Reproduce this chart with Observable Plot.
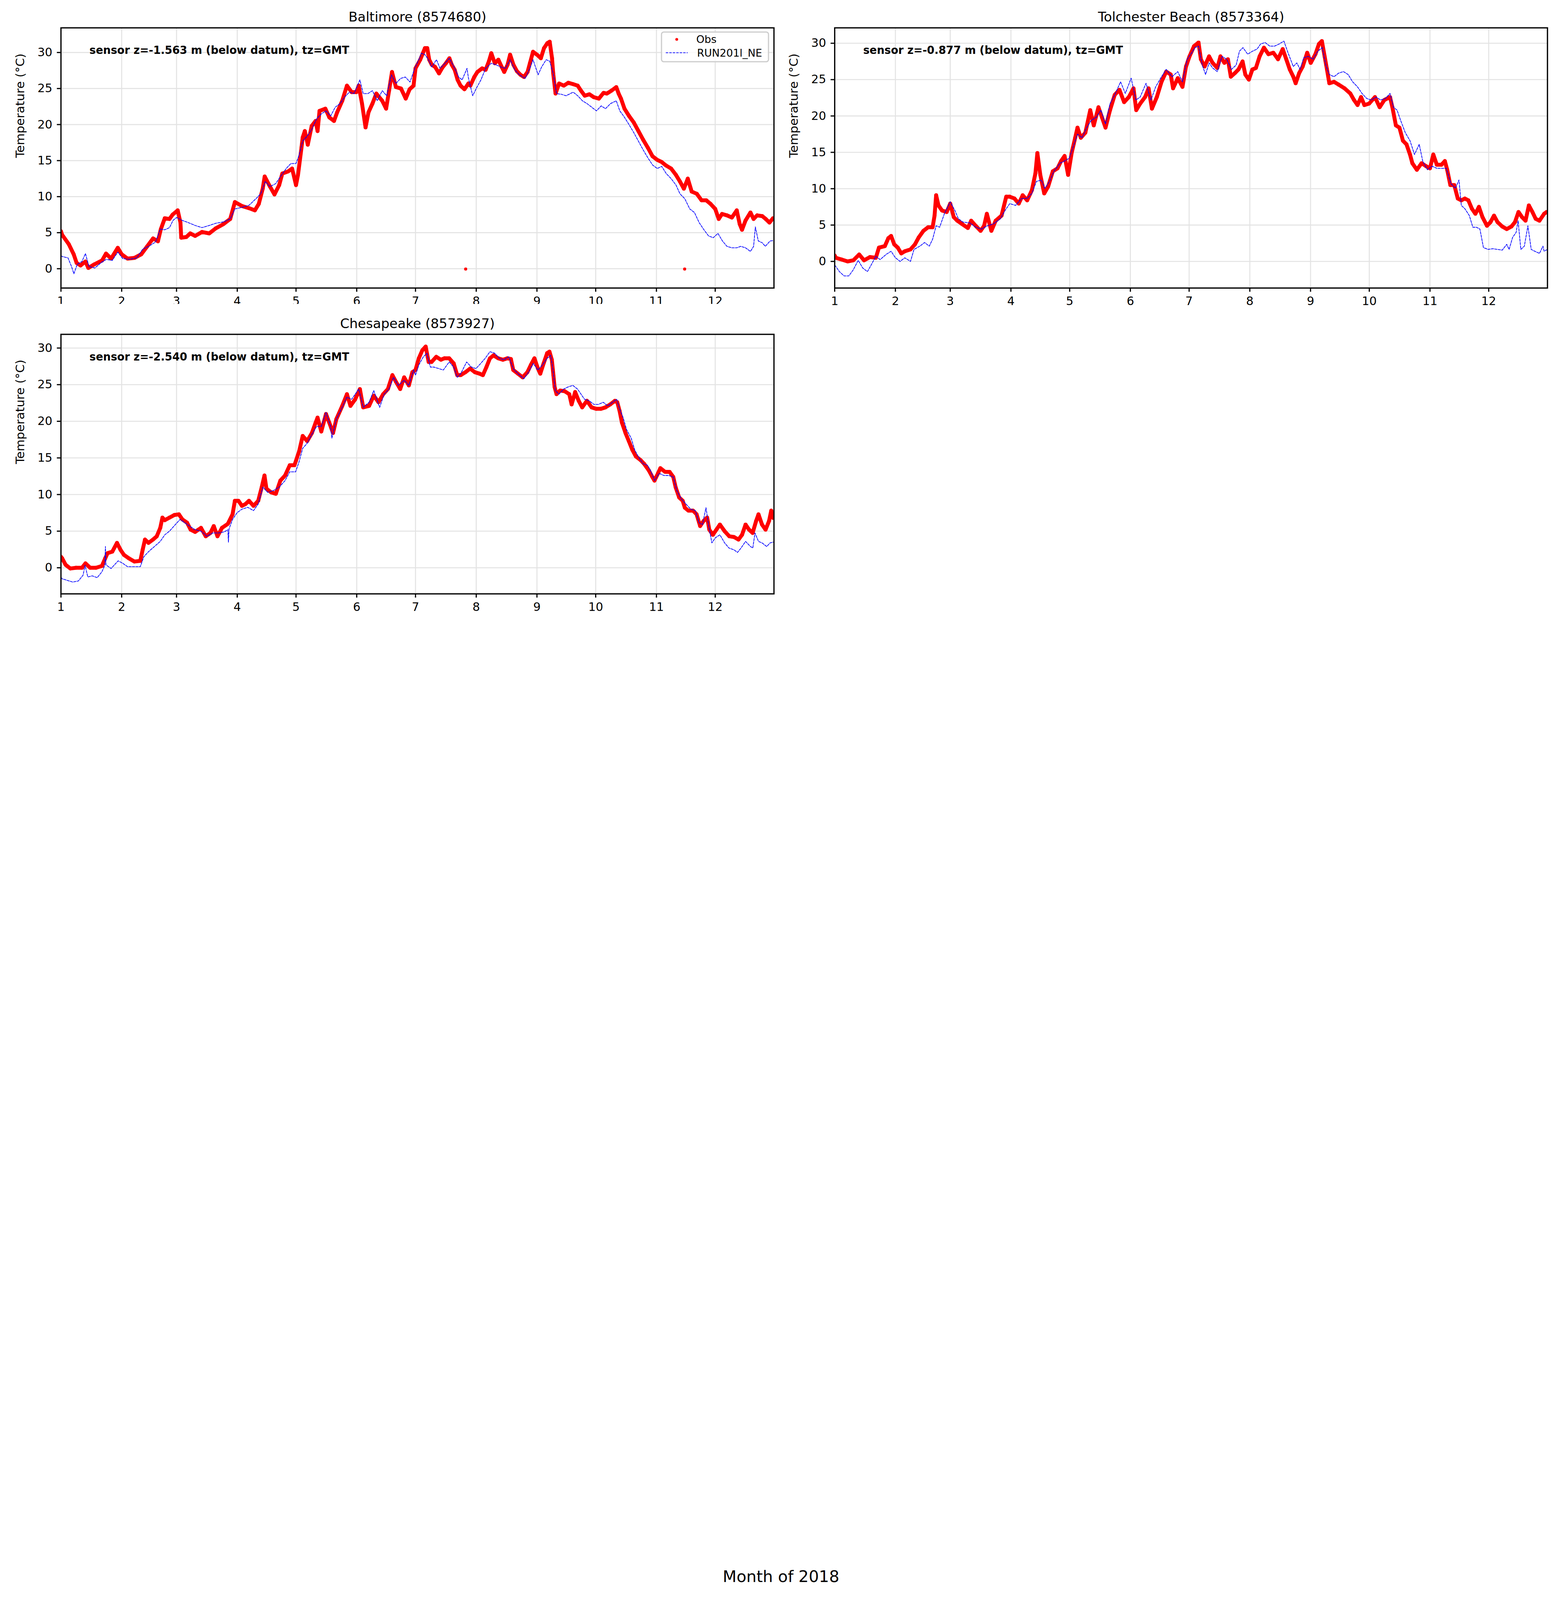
<!DOCTYPE html>
<html>
<head>
<meta charset="utf-8">
<script src="https://cdn.jsdelivr.net/npm/d3@7"></script>
<script src="https://cdn.jsdelivr.net/npm/@observablehq/plot@0.6"></script>
<style>
  html, body { margin: 0; padding: 0; background: #fff; overflow: hidden; }
  #page { position: relative; width: 4000px; background: #fff; font-family: "DejaVu Sans", sans-serif; }
  .panel { position: absolute; }
  #overlay { position: absolute; left: 0; top: 0; pointer-events: none; }
</style>
</head>
<body>
<div id="page">
  <div id="p-bal" class="panel"></div>
  <div id="p-tol" class="panel"></div>
  <div id="p-che" class="panel"></div>
</div>
<script>
// ---------- tick labels ----------
const monthNumbers = [1,2,3,4,5,6,7,8,9,10,11,12];
const yTickValues = [0,5,10,15,20,25,30];

// ---------- station titles / notes ----------
const stationTitles = ["Baltimore (8574680)", "Tolchester Beach (8573364)", "Chesapeake (8573927)"];
const sensorNotes = [
  "sensor z=-1.563 m (below datum), tz=GMT",
  "sensor z=-0.877 m (below datum), tz=GMT",
  "sensor z=-2.540 m (below datum), tz=GMT"
];
const seriesNames = ["Obs", "RUN201l_NE"];

// ---------- data: [day of 2018 (0 = Jan 1), temperature °C] ----------
const baltimoreObs = [[0,5.2],[0.6,4.7],[4,3.4],[6.5,2.0],[8,0.8],[10,0.45],[12.5,1.0],[14,0.1],[17,0.6],[21,1.15],[23,2.1],[25.6,1.4],[29,2.9],[31,2.0],[34,1.4],[37.5,1.5],[41,2.0],[44,3.1],[47,4.2],[49.5,3.8],[51,5.5],[53,7.0],[55.4,6.9],[57,7.5],[59.6,8.1],[61,6.4],[61.4,4.3],[64,4.4],[66,4.9],[68.5,4.55],[72,5.1],[75.7,4.9],[79,5.6],[83,6.2],[86.4,6.9],[88.8,9.25],[92.4,8.7],[96,8.4],[99,8.1],[101,9.0],[103,11.1],[104,12.8],[106.7,11.4],[109,10.3],[111.4,11.6],[113,13.2],[116,13.5],[118,13.9],[120,11.6],[121,13.0],[122.8,16.8],[123.4,18.2],[124.5,19.1],[126,17.2],[128,19.8],[130,20.5],[131,19.1],[132,21.9],[135,22.2],[137,21.0],[139.4,20.5],[141,21.7],[143.6,23.3],[146,25.4],[148.4,24.5],[150.8,24.5],[152,25.4],[153.7,22.9],[155.5,19.6],[157,21.7],[159,22.9],[161,24.3],[164,23.3],[166,22.2],[167.5,24.7],[169,27.3],[171,25.2],[173.6,25.0],[176,23.6],[178,24.9],[180,25.4],[181,27.8],[183.4,29.0],[185.8,30.6],[187,30.6],[188,29.0],[189.3,28.3],[191,28.0],[193,27.1],[194.7,27.9],[196.5,28.5],[198.3,29.2],[199.5,28.3],[201,27.6],[202.5,26.2],[204,25.4],[206,24.9],[208,25.7],[209,25.4],[211,26.6],[212.6,27.3],[215,27.8],[216.8,27.6],[218.5,28.8],[219.7,29.9],[221.5,28.5],[223.3,29.0],[225,28.0],[226.3,27.3],[228,28.3],[229.3,29.7],[231,28.3],[232.8,27.4],[234.6,26.9],[236.4,26.6],[238.2,27.3],[239.4,28.5],[241,30.1],[243,29.7],[245,29.2],[246.6,30.6],[248.3,31.3],[249.5,31.5],[250.7,29.2],[251.3,27.1],[252.5,24.3],[254.3,25.7],[256.7,25.4],[259,25.8],[261.5,25.6],[263.8,25.4],[265.5,24.7],[267.4,24.0],[269.8,24.2],[272,23.8],[274.6,23.6],[277,24.4],[278.7,24.3],[281,24.7],[283.5,25.2],[284.7,24.3],[285.9,23.6],[287.7,22.2],[290,21.2],[292.4,20.3],[294.8,19.1],[297.2,17.9],[299.6,16.8],[302,15.6],[304.4,15.1],[306.7,14.8],[309,14.3],[311.5,13.9],[314,13.0],[316,12.1],[318,11.1],[320,12.5],[322,10.7],[324.6,10.4],[327,9.5],[329.4,9.5],[331.6,9.0],[334,8.3],[335.8,6.9],[337.5,7.6],[340,7.4],[342.5,7.1],[345,8.1],[346.5,6.2],[347.7,5.4],[349.5,6.7],[352,7.8],[353.6,6.9],[355.4,7.4],[358,7.3],[359.8,6.9],[361.7,6.4],[363.5,7.0]];
const baltimoreObsOutliers = [[206.6,-0.05],[318.4,-0.05]];
const baltimoreModel = [[0,1.8],[0.6,1.7],[3.6,1.5],[5.4,0.3],[6.6,-0.7],[8.3,0.6],[10.7,1.0],[12.5,2.1],[14.3,0.3],[17.3,0.1],[20.3,0.8],[23.2,1.3],[26.2,1.15],[29,2.3],[31.6,1.4],[35,1.3],[38.7,1.5],[41.7,2.7],[44.7,3.1],[48.3,3.7],[50.7,5.5],[53,5.4],[55.4,5.7],[57.2,6.7],[59,7.1],[62,6.7],[65,6.4],[68.5,6.0],[72,5.7],[75.7,6.0],[79,6.3],[83,6.5],[86.4,6.9],[88.8,8.3],[92.4,8.5],[96,8.8],[99.5,9.7],[102,10.4],[104.3,12.1],[106.7,11.4],[109.6,11.8],[112.6,13.0],[115,13.9],[117.4,14.6],[120,14.6],[121.6,15.8],[123.4,17.7],[125.7,18.4],[128,19.3],[130.5,20.8],[133,21.5],[135.3,21.9],[137.7,21.2],[140,22.4],[142.4,22.9],[144.8,23.8],[147.2,24.5],[149.6,24.3],[152.6,26.2],[154.3,24.3],[156.7,24.3],[159,24.7],[161.5,23.3],[164,24.7],[166.3,24.0],[168.7,26.9],[171,25.7],[173.4,26.4],[175.8,26.6],[178.2,25.9],[180.6,27.8],[183,29.2],[184,29.9],[185.8,29.7],[187.6,29.0],[189.3,28.0],[191.7,29.0],[193.5,27.8],[196,28.5],[198.3,29.2],[200.7,28.0],[203,26.6],[204.8,26.2],[207.3,27.8],[208,26.5],[210.2,24.0],[212,25.0],[214.4,26.2],[216.8,27.8],[219.7,28.5],[222,28.3],[224.5,28.0],[226.9,27.8],[229.3,29.0],[231.7,27.6],[234,26.9],[237,26.4],[239.4,27.8],[241,29.0],[243.6,26.9],[245.4,28.0],[247.7,29.0],[249.5,28.8],[251.3,27.1],[253,24.3],[255.5,24.2],[257.9,24.0],[261.5,24.5],[263.8,24.0],[266.2,23.3],[268.6,22.9],[271,22.4],[273.4,21.9],[275.8,22.6],[278,22.2],[280.5,22.9],[283.5,23.3],[285.3,21.9],[287.7,21.0],[290,20.0],[292.4,18.9],[294.8,17.7],[297.2,16.5],[299.6,15.4],[302,14.4],[304.4,13.9],[306.7,14.2],[309,13.2],[311.5,12.5],[314,11.6],[316,10.4],[318.5,9.7],[321,8.3],[323.4,7.8],[325.8,6.4],[328,5.5],[330.6,4.55],[333,4.3],[335.4,4.9],[337.7,3.85],[340,3.1],[342.5,2.9],[345,2.9],[347,3.1],[349.5,2.9],[352,2.4],[353.6,3.1],[354.5,5.8],[356,3.85],[358,3.6],[359.6,3.1],[362,3.85],[363.5,3.9]];

const tolchesterObs = [[0,0.8],[0.6,0.5],[3.6,0.25],[6.6,0.0],[9.5,0.15],[12.5,0.95],[15,0.15],[18,0.6],[21,0.5],[22.6,1.9],[25.6,2.1],[27.4,3.2],[28.8,3.5],[30.4,2.35],[32.2,1.9],[34,1.1],[35.8,1.4],[38.7,1.65],[41,2.35],[42.9,3.3],[45.3,4.2],[47.7,4.7],[50,4.7],[51,6.3],[51.8,9.1],[53,7.7],[54.8,7.0],[57.2,6.8],[59,7.95],[60.8,6.1],[62.6,5.6],[65,5.15],[68,4.6],[69.7,5.6],[72,4.9],[74.5,4.2],[76.3,4.9],[77.7,6.55],[80,4.2],[82.2,5.6],[85.2,6.3],[87.6,8.9],[89.4,8.9],[91.8,8.65],[94,7.95],[96,9.1],[98.3,8.4],[100.7,9.8],[102.5,12.1],[103.5,14.9],[105,11.9],[107,9.35],[109,10.3],[111.4,12.4],[113.8,12.8],[115.6,13.8],[117.4,14.5],[119.2,11.9],[121,14.9],[122.8,17.0],[124,18.4],[125.7,17.0],[128,17.7],[130.5,20.8],[132.3,18.7],[134.7,21.2],[136.5,19.8],[138.3,18.4],[140.6,20.8],[143,22.9],[145.4,23.6],[147.8,21.9],[150.2,22.6],[152.6,23.8],[154,20.8],[156,21.7],[158.5,22.6],[160.3,23.8],[162,21.0],[164.5,22.6],[166.9,24.7],[169.3,26.1],[171.6,25.7],[172.8,23.8],[175.2,25.2],[177.6,24.0],[179.4,26.8],[181.2,28.2],[183.5,29.6],[185.8,30.1],[187,27.8],[188.9,26.8],[191.2,28.2],[193,27.3],[195.4,26.6],[197,28.2],[199,27.3],[200.8,27.8],[202.3,25.4],[204.4,25.9],[206.2,26.4],[208.3,27.5],[209.7,25.7],[211.5,25.0],[213.3,26.4],[215.1,26.6],[217,28.2],[219.2,29.4],[221.5,28.5],[224,28.7],[226.4,27.8],[228.8,29.2],[230.6,27.8],[232.4,26.4],[234.2,25.4],[235.4,24.5],[237.2,25.9],[239,26.8],[241.3,28.7],[243.1,27.3],[245.5,28.5],[247.3,29.9],[248.8,30.3],[250.2,28.2],[251.4,26.4],[252.6,24.5],[255,24.7],[257.4,24.3],[260.4,23.8],[263.3,23.1],[265.2,22.2],[267,21.5],[268.8,22.6],[270.5,21.5],[272.9,21.7],[275.9,22.6],[278.3,21.2],[280.7,22.2],[283.6,22.6],[284.8,21.2],[286.6,18.7],[288.4,18.4],[290.2,16.6],[292,16.1],[293.8,14.7],[295,13.5],[297.3,12.6],[299.7,13.5],[302,13.1],[304,12.8],[305.7,14.7],[307.5,13.3],[309.9,13.3],[311.6,13.8],[312.8,12.6],[314.4,10.5],[316.4,10.5],[318.2,8.65],[320,8.4],[321.8,8.65],[323.6,8.4],[325.4,7.25],[327.2,6.55],[329,7.5],[330.8,6.1],[333.1,4.9],[334.9,5.4],[336.7,6.3],[338.5,5.4],[340.9,4.8],[343.2,4.45],[345.6,4.8],[347.4,5.4],[349.2,6.8],[351,6.1],[352.8,5.6],[354.5,7.7],[356.3,6.8],[358,5.85],[359.9,5.6],[362.3,6.55],[363.6,6.8]];
const tolchesterModel = [[0,-0.5],[0.6,-0.7],[2.4,-1.4],[4.8,-2.0],[7.2,-2.0],[9.5,-1.15],[12,0.15],[14.3,-0.9],[16.7,-1.4],[18.5,-0.55],[21,0.7],[23.2,0.25],[26.2,0.95],[28.8,1.4],[31,0.5],[33.4,0.0],[35.8,0.5],[38.7,0.0],[40.5,1.65],[43.5,2.1],[45.9,2.6],[48.3,2.1],[50,3.05],[51.8,4.9],[53.6,4.7],[56,6.55],[59,8.2],[61.4,7.0],[63.2,5.85],[65.6,5.4],[69,5.3],[72,4.7],[75,4.45],[78,4.9],[81,5.15],[84.6,5.85],[87,7.0],[89.4,7.95],[92.4,7.7],[95.4,8.65],[98.3,8.65],[100.7,9.35],[103,11.0],[105.5,11.2],[107.3,10.05],[109.7,11.0],[112,12.4],[115,13.5],[117.4,13.8],[119.8,14.2],[121.6,15.6],[124,17.5],[126.3,17.0],[128.7,18.4],[131,19.4],[133.5,19.8],[136,20.8],[138.3,18.9],[140.6,21.7],[143,22.9],[146,24.7],[148.4,23.1],[151.4,25.2],[153.8,22.2],[156,22.6],[159,24.5],[161.5,22.2],[163.9,24.0],[166.9,25.4],[169.3,26.4],[172.3,25.4],[175.2,26.1],[177.6,24.7],[180,27.8],[182.4,28.7],[184,29.4],[185.8,29.6],[187.7,27.0],[189.4,25.7],[191.2,27.3],[193,26.6],[195.4,26.1],[197.8,28.2],[200.2,27.8],[202.6,26.4],[205,27.0],[206.7,28.9],[208.5,29.4],[210.9,28.5],[213.3,28.9],[215.7,29.2],[217.5,29.9],[219.8,30.1],[222.2,29.6],[224.6,29.6],[227,29.9],[229.4,30.3],[231.5,28.7],[234.2,26.8],[236,27.3],[237.7,26.4],[239.5,28.0],[241.9,28.2],[244.3,27.8],[246.7,28.9],[249,29.4],[250.8,27.0],[252.6,25.7],[255,25.4],[257.4,25.9],[259.8,26.1],[262.2,25.7],[264.5,24.7],[267,24.0],[269.3,23.1],[271.7,22.4],[274,22.2],[276.5,22.6],[278.8,22.2],[281.2,22.4],[283.6,23.1],[285.4,21.2],[287.2,20.8],[289,19.4],[291.4,17.7],[293.8,16.6],[296.1,14.7],[298.5,16.1],[300.3,13.8],[302.7,12.6],[305,13.1],[307.5,12.8],[309.9,12.8],[312.3,12.8],[314.7,10.7],[317,10.05],[318.8,11.2],[320,7.7],[321.8,7.25],[324.1,6.3],[325.9,4.7],[327.7,4.7],[329.5,4.45],[331.3,1.9],[333.7,1.65],[336.1,1.75],[338.5,1.65],[340.9,1.55],[343.2,2.35],[344.4,1.65],[346.2,3.3],[348,4.0],[349,5.6],[350.4,1.65],[352.2,2.1],[354,4.9],[355.7,1.65],[357.5,1.4],[359.9,1.1],[361.7,2.1],[362.3,1.4],[363.6,1.6]];

const chesapeakeObs = [[0,1.5],[0.6,1.3],[2.4,0.4],[4.8,-0.1],[7.7,0.0],[10.7,0.0],[12.5,0.6],[14.9,0.0],[17.9,0.0],[20.9,0.25],[22.6,1.3],[23.8,2.0],[26.2,2.2],[28.6,3.4],[30.4,2.45],[32.2,1.75],[34.6,1.3],[37.5,0.85],[40.5,0.95],[41.7,2.45],[42.9,3.85],[44.7,3.4],[47,3.85],[48.9,4.3],[50.7,5.45],[51.8,6.85],[53,6.5],[55.4,6.85],[57.8,7.2],[60.2,7.3],[62,6.6],[64.4,6.15],[66.2,5.2],[68.5,4.9],[71.5,5.45],[73.9,4.3],[76.3,4.75],[78,5.7],[79.9,4.3],[82.2,5.45],[85.2,6.0],[87.6,7.3],[88.8,9.15],[90.6,9.15],[92.4,8.45],[94.2,8.7],[96,9.15],[98.3,8.45],[100.7,9.15],[102.5,11.0],[103.9,12.6],[104.9,10.8],[107.3,10.3],[109.7,10.1],[112,11.9],[114.4,12.6],[116.8,14.0],[119.2,14.0],[121.6,15.9],[123.4,18.0],[125.7,17.3],[128.1,18.4],[130,19.8],[131,20.5],[132.9,18.6],[135.3,21.0],[137,19.8],[138.9,18.4],[140.6,20.3],[143.6,22.1],[146,23.7],[147.8,22.1],[150.2,23.0],[152.6,24.4],[154.3,21.9],[157.3,22.1],[159.7,23.5],[162.1,22.6],[164.5,23.7],[166.9,24.4],[169.2,26.3],[171,25.4],[173.2,24.4],[175.2,26.0],[177.6,24.9],[179.4,26.7],[181,27.0],[182.7,28.6],[184.5,29.7],[186.2,30.2],[187.7,28.1],[189.2,28.1],[191.6,28.8],[194,28.4],[195.8,28.6],[198.2,28.6],[200.5,27.9],[202.3,26.3],[204.1,26.3],[206.5,26.7],[208.9,27.2],[211.3,26.7],[213.7,26.5],[215.4,26.3],[217.2,27.4],[219,28.6],[220.8,29.0],[223.2,28.6],[225.6,28.4],[227.9,28.6],[229.7,28.5],[230.9,27.0],[233.3,26.5],[235.7,26.0],[238.1,26.7],[239.9,27.7],[241.7,28.6],[243.5,27.2],[244.7,26.5],[246.4,27.9],[248.2,29.3],[249.4,29.5],[250.6,28.4],[251.4,26.3],[252,24.7],[253,23.7],[254.8,24.2],[257.2,24.1],[259.5,23.7],[260.7,22.3],[262.5,24.0],[264.3,22.8],[266.1,21.9],[268.5,22.8],[270.9,21.9],[273.3,21.7],[275.6,21.7],[278,21.9],[280.4,22.3],[282.8,22.8],[284,22.6],[285.2,21.4],[286.4,19.8],[288.2,18.4],[289.9,17.3],[291.7,16.1],[293.5,15.2],[295.9,14.7],[297.7,14.2],[300.1,13.3],[301.9,12.4],[303,11.9],[304.8,12.9],[306,13.6],[308.4,13.1],[310.7,13.1],[312.6,12.4],[313.8,11.0],[315.6,9.6],[317.4,9.15],[318.5,8.2],[320.3,7.8],[322.7,7.8],[324.5,7.3],[326.3,5.7],[328.1,6.4],[329.9,6.85],[331,5.2],[332.8,4.5],[334.6,5.2],[336.4,5.9],[338.8,5.0],[341.2,4.3],[343.6,4.2],[345.9,3.85],[347.7,4.5],[349.5,5.9],[351.3,5.2],[353.1,4.75],[354.9,6.4],[356.1,7.3],[357.9,5.9],[359.7,5.2],[361.5,6.4],[362.6,7.8],[363.6,6.8]];
const chesapeakeModel = [[0,-1.3],[0.6,-1.5],[3,-1.7],[6,-1.95],[8.9,-1.8],[11.3,-1.0],[12.3,0.35],[13.7,-1.25],[16,-1.1],[18.5,-1.35],[20.9,-0.55],[22.4,0.35],[22.7,2.9],[23,0.4],[25.6,-0.1],[29.2,0.95],[31.6,0.6],[34,0.15],[37.5,0.15],[40.5,0.15],[42.3,1.5],[44.7,2.2],[47.7,2.9],[50.7,3.6],[53,4.5],[55.4,5.0],[58.4,5.9],[60.8,6.6],[63.2,6.15],[65.6,5.7],[68.5,5.2],[71.5,5.0],[74.5,4.3],[77.5,4.75],[80.5,4.75],[83.4,4.9],[85.2,5.2],[85.5,3.5],[85.8,5.3],[87.6,6.6],[90,7.55],[92.4,8.0],[95.4,8.25],[98.3,7.8],[100.7,8.7],[103.1,11.0],[105.5,10.3],[108.5,10.55],[111.4,11.0],[114.4,11.9],[116.8,13.1],[119.8,13.1],[121.6,14.5],[123.4,16.3],[125.7,17.0],[128.1,18.2],[130.5,19.3],[132.9,19.3],[135.3,21.2],[137.7,19.3],[138.3,17.7],[140.6,20.3],[143.6,21.9],[146,23.3],[148.4,23.0],[152,24.4],[154.3,21.9],[157.3,22.6],[159.7,24.2],[162.7,21.9],[165,23.7],[167.5,24.4],[169.8,26.0],[172.2,24.9],[175.2,25.6],[177.6,24.9],[180,27.0],[181,26.3],[182.7,27.7],[185,28.8],[186.8,29.3],[188.6,27.4],[190.4,27.4],[192.8,27.2],[195.2,27.0],[198.2,28.1],[200.5,27.4],[202.3,26.0],[204.1,26.5],[207.1,28.1],[209.5,27.4],[211.9,27.2],[214.3,27.9],[216.6,28.6],[219,29.5],[221.4,29.3],[223.8,28.6],[226.2,28.4],[228.6,28.8],[230.9,27.2],[233.3,26.5],[236.3,25.8],[238.7,26.7],[241.1,27.9],[243.5,27.0],[245.8,27.7],[248.2,28.6],[250,29.0],[251.2,27.0],[252.4,24.2],[254.2,23.7],[256.6,24.4],[259,24.7],[261.3,24.9],[263.7,24.4],[265.5,23.7],[267.3,23.0],[269.7,22.8],[272.1,22.3],[274.4,22.3],[276.8,22.6],[279.2,22.1],[281.6,22.6],[283.7,23.0],[285.2,21.7],[287,20.5],[288.7,18.9],[291.1,17.7],[292.9,16.1],[294.7,15.2],[297.1,14.2],[299.5,14.0],[301.3,13.1],[303.1,11.9],[305.4,12.9],[307.8,12.6],[310.2,12.6],[312.6,12.4],[314.4,10.55],[316.7,9.4],[319.1,8.7],[321.5,8.0],[323.9,7.8],[325.7,6.15],[327.5,5.9],[329.3,8.2],[330.7,5.7],[332.3,3.4],[334.1,4.1],[336.4,4.5],[338.8,3.4],[341,2.7],[343.6,2.45],[345.4,2.1],[347.2,2.7],[349.5,3.6],[352,2.9],[353.2,2.7],[354.3,4.75],[356.1,3.6],[357.9,3.4],[360.3,2.9],[362,3.4],[363.6,3.5]];

// ---------- helpers ----------
const YEAR_START = Date.UTC(2018, 0, 1);
const toDate = d => new Date(YEAR_START + d * 864e5);
const toRows = arr => arr.map(([d, t]) => ({date: toDate(d), temp: t}));
const monthTicks = monthNumbers.map(m => new Date(Date.UTC(2018, m - 1, 1)));
const monthLabel = d => String(monthNumbers[d.getUTCMonth()]);

// The layout is designed for a 4000x5000 page; the visible window may be
// shorter, so vertical positions are fitted to the window height.
const PAGE_H = 5000;
const viewH = window.innerHeight || PAGE_H;
const k = Math.min(1, viewH / PAGE_H);
document.getElementById("page").style.height = Math.round(PAGE_H * k) + "px";

function panel(cfg) {
  const obs = toRows(cfg.obs), model = toRows(cfg.model), outl = toRows(cfg.outliers || []);
  const gridStyle = {stroke: "#e3e3e3", strokeOpacity: 1, strokeWidth: 2.6};
  const mt = (cfg.axTop - cfg.svgTop) * k;
  const ph = (cfg.axBottom - cfg.axTop) * k;
  const mb = 62;
  return Plot.plot({
    width: 2000, height: mt + ph + mb,
    marginLeft: cfg.ml, marginRight: cfg.mr, marginTop: mt, marginBottom: mb,
    style: {fontFamily: "DejaVu Sans", fontSize: "30px", background: "white", color: "black", overflow: "visible"},
    x: {type: "utc", domain: [toDate(0), toDate(364)]},
    y: {domain: cfg.yDomain},
    marks: [
      Plot.gridX(monthTicks, gridStyle),
      Plot.gridY(yTickValues, gridStyle),
      Plot.line(obs, {x: "date", y: "temp", stroke: "red", strokeWidth: 10, strokeLinejoin: "round", strokeLinecap: "round", clip: true}),
      Plot.dot(obs, {x: "date", y: "temp", r: 5, fill: "red", clip: true}),
      Plot.dot(outl, {x: "date", y: "temp", r: 4, fill: "red", clip: true}),
      Plot.line(model, {x: "date", y: "temp", stroke: "blue", strokeWidth: 1.8, strokeDasharray: "6.2,2.7", clip: true}),
      Plot.frame({stroke: "black", strokeWidth: 3.2}),
      Plot.axisX(monthTicks, {tickSize: 10, tickPadding: 12, strokeWidth: 3, tickFormat: monthLabel, fontSize: 30, label: null}),
      Plot.axisY(yTickValues, {tickSize: 10, tickPadding: 12, strokeWidth: 3, fontSize: 30, label: null}),
      Plot.text([cfg.title], {frameAnchor: "top", dy: -33 * k, fontSize: 34, lineAnchor: "middle"}),
      Plot.text([cfg.note], {frameAnchor: "top-left", dx: 73, dy: 71 * k, textAnchor: "start", lineAnchor: "middle", fontWeight: "bold", fontSize: 27.5}),
      Plot.text(["Temperature (°C)"], {frameAnchor: "left", rotate: -90, dx: -104, fontSize: 31, lineAnchor: "middle"})
    ]
  });
}

function place(id, left, svgTop, cfg) {
  const el = document.getElementById(id);
  el.style.left = left + "px";
  el.style.top = (svgTop * k) + "px";
  el.append(panel({...cfg, svgTop}));
}

place("p-bal", 0, 0, {
  obs: baltimoreObs, model: baltimoreModel, outliers: baltimoreObsOutliers,
  yDomain: [-2.68, 33.42], title: stationTitles[0], note: sensorNotes[0],
  axTop: 86.4, axBottom: 899.5, ml: 155.6, mr: 18.5
});
place("p-tol", 2000, 0, {
  obs: tolchesterObs, model: tolchesterModel,
  yDomain: [-3.66, 32.12], title: stationTitles[1], note: sensorNotes[1],
  axTop: 86.4, axBottom: 899.5, ml: 137, mr: 37.7
});
place("p-che", 0, 950, {
  obs: chesapeakeObs, model: chesapeakeModel,
  yDomain: [-3.56, 31.87], title: stationTitles[2], note: sensorNotes[2],
  axTop: 1044.5, axBottom: 1855.5, ml: 155.6, mr: 18.5
});

// ---------- legend (Baltimore) and shared x label ----------
const ov = d3.select("#page").append("svg").attr("id", "overlay")
  .attr("width", 4000).attr("height", Math.round(PAGE_H * k))
  .style("font-family", "DejaVu Sans");
ov.append("rect").attr("x", 1694).attr("y", 100 * k).attr("width", 274).attr("height", 93 * k)
  .attr("rx", 6).attr("fill", "white").attr("fill-opacity", 0.8)
  .attr("stroke", "#cccccc").attr("stroke-width", 3);
ov.append("circle").attr("cx", 1733).attr("cy", 123 * k).attr("r", 3.6).attr("fill", "red");
ov.append("text").attr("x", 1783).attr("y", 123 * k).attr("dy", "0.35em").attr("font-size", 26.7).text(seriesNames[0]);
ov.append("line").attr("x1", 1705).attr("x2", 1761).attr("y1", 165 * k).attr("y2", 165 * k)
  .attr("stroke", "blue").attr("stroke-width", 1.8).attr("stroke-dasharray", "6.2,2.7");
ov.append("text").attr("x", 1785).attr("y", 165 * k).attr("dy", "0.35em").attr("font-size", 26.7).text(seriesNames[1]);
ov.append("text").attr("x", 2000).attr("y", 4944 * k).attr("text-anchor", "middle")
  .attr("font-size", 41).text("Month of 2018");
</script>
</body>
</html>
